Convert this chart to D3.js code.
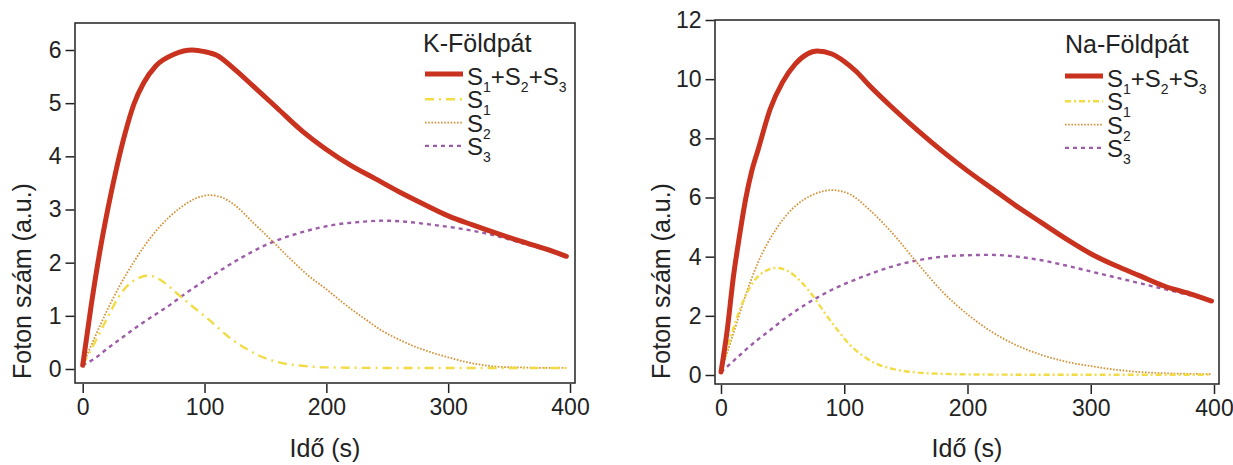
<!DOCTYPE html>
<html>
<head>
<meta charset="utf-8">
<script src="https://cdn.jsdelivr.net/npm/d3@7"></script>
<style>
  html, body { margin: 0; padding: 0; background: #fff; }
  svg { display: block; font-family: "Liberation Sans", Arial, sans-serif; }
</style>
</head>
<body>
<svg id="chart" width="1233" height="465"></svg>
<script>
// Time axis ticks (s)
const xTicks = [0, 100, 200, 300, 400];
const kYTicks = [0, 1, 2, 3, 4, 5, 6];
const naYTicks = [0, 2, 4, 6, 8, 10, 12];

// K-Földpát: [time (s), photon count (a.u.)]
const kTotal = [[0,0.07],[7,1.2],[14,2.2],[21,3.05],[28,3.8],[35,4.45],[42,4.98],[50,5.38],[60,5.7],[75,5.92],[90,6.0],[100,5.97],[110,5.9],[125,5.63],[140,5.32],[160,4.9],[180,4.48],[200,4.13],[220,3.83],[240,3.58],[260,3.33],[280,3.1],[300,2.88],[320,2.71],[340,2.55],[360,2.4],[380,2.26],[397,2.12]];
const kS1 = [[0,0.07],[10,0.5],[20,0.95],[28,1.3],[36,1.55],[45,1.7],[53,1.76],[62,1.7],[70,1.57],[77,1.43],[90,1.18],[105,0.9],[120,0.6],[135,0.37],[143,0.27],[160,0.13],[180,0.06],[200,0.03],[250,0.02],[300,0.02],[350,0.02],[397,0.02]];
const kS2 = [[0,0.07],[10,0.6],[20,1.1],[30,1.55],[43,2.05],[55,2.45],[65,2.72],[80,3.03],[92,3.2],[104,3.27],[115,3.22],[125,3.08],[140,2.75],[155,2.42],[170,2.08],[185,1.76],[200,1.5],[215,1.22],[233,0.92],[245,0.73],[260,0.55],[275,0.4],[288,0.3],[300,0.22],[315,0.13],[330,0.07],[343,0.04],[360,0.03],[380,0.02],[397,0.02]];
const kS3 = [[0,0.07],[10,0.2],[20,0.38],[30,0.55],[40,0.72],[50,0.88],[60,1.03],[70,1.18],[85,1.43],[100,1.66],[127,2.05],[150,2.33],[178,2.56],[206,2.71],[230,2.77],[247,2.79],[265,2.77],[288,2.71],[310,2.64],[329,2.56],[345,2.47],[360,2.37],[380,2.24],[397,2.1]];

// Na-Földpát: [time (s), photon count (a.u.)]
const naTotal = [[0,0.1],[5,1.5],[10,3.3],[15,4.7],[20,5.95],[25,6.9],[30,7.6],[40,9.0],[50,9.9],[60,10.5],[70,10.85],[78,10.95],[90,10.85],[100,10.6],[110,10.25],[120,9.8],[140,9.0],[160,8.25],[180,7.55],[200,6.9],[220,6.3],[240,5.7],[260,5.15],[280,4.6],[300,4.1],[320,3.7],[340,3.35],[360,3.0],[380,2.75],[398,2.5]];
const naS1 = [[0,0.1],[8,1.3],[16,2.3],[24,3.0],[32,3.4],[45,3.62],[55,3.5],[65,3.15],[75,2.65],[85,2.05],[95,1.5],[105,1.0],[115,0.65],[125,0.4],[140,0.2],[160,0.08],[180,0.04],[200,0.02],[250,0.01],[300,0.01],[350,0.01],[398,0.01]];
const naS2 = [[0,0.1],[10,1.4],[20,2.7],[30,3.8],[45,4.95],[60,5.7],[75,6.1],[90,6.25],[105,6.1],[120,5.6],[140,4.75],[160,3.75],[180,2.8],[200,2.05],[220,1.45],[240,1.0],[260,0.68],[280,0.45],[300,0.3],[320,0.18],[340,0.1],[360,0.06],[380,0.04],[398,0.03]];
const naS3 = [[0,0.1],[10,0.47],[20,0.85],[30,1.2],[40,1.52],[50,1.85],[60,2.15],[70,2.42],[80,2.66],[90,2.88],[100,3.07],[120,3.4],[140,3.68],[160,3.88],[180,4.0],[200,4.05],[220,4.06],[240,4.0],[260,3.88],[280,3.7],[300,3.5],[320,3.3],[340,3.1],[360,2.9],[380,2.7],[398,2.5]];

const seriesStyles = [
  { key: "total", color: "#c8321e", width: 5,   dash: null },
  { key: "s1",    color: "#f2dc46", width: 2.4, dash: "9,5,2,5" },
  { key: "s2",    color: "#d4923a", width: 1.8, dash: "1.6,1.6" },
  { key: "s3",    color: "#9c5ca8", width: 2.4, dash: "4,4" }
];

const panels = [
  {
    title: "K-Földpát",
    data: { total: kTotal, s1: kS1, s2: kS2, s3: kS3 },
    yTicks: kYTicks, yMax: 6,
    frame: { left: 75, right: 575, top: 23, bottom: 383 },
    xRange: [82.7, 570], yRange: [369, 50],
    yTitleX: 31,
    legend: { x: 425, titleX: 423, titleY: 52, rowY0: 85 },
    s1Dash: "9,5,2,5"
  },
  {
    title: "Na-Földpát",
    data: { total: naTotal, s1: naS1, s2: naS2, s3: naS3 },
    yTicks: naYTicks, yMax: 12,
    frame: { left: 715, right: 1219, top: 20, bottom: 384 },
    xRange: [721, 1214], yRange: [375, 20],
    yTitleX: 670,
    legend: { x: 1065, titleX: 1065, titleY: 53, rowY0: 87 },
    s1Dash: "6,3,2,3"
  }
];

const svg = d3.select("#chart");
const ink = "#222";
const fontFamily = "'Liberation Sans', Arial, sans-serif";

panels.forEach(p => {
  const g = svg.append("g");
  const x = d3.scaleLinear().domain([0, 400]).range(p.xRange);
  const y = d3.scaleLinear().domain([0, p.yMax]).range(p.yRange);
  const f = p.frame;

  // Curves, broad sum drawn last so it sits on top
  const line = d3.line().x(d => x(d[0])).y(d => y(d[1])).curve(d3.curveMonotoneX);
  ["s3", "s2", "s1", "total"].forEach(k => {
    const st = seriesStyles.find(s => s.key === k);
    g.append("path")
      .datum(p.data[k])
      .attr("d", line)
      .attr("fill", "none")
      .attr("stroke", st.color)
      .attr("stroke-width", st.width)
      .attr("stroke-linecap", k === "total" ? "round" : "butt")
      .attr("stroke-linejoin", "round")
      .attr("stroke-dasharray", k === "s1" ? p.s1Dash : st.dash);
  });

  // Frame
  g.append("rect")
    .attr("x", f.left).attr("y", f.top)
    .attr("width", f.right - f.left).attr("height", f.bottom - f.top)
    .attr("fill", "none").attr("stroke", ink).attr("stroke-width", 1.5);

  // X axis ticks and labels, hanging below the frame
  const xAxis = d3.axisBottom(x).tickValues(xTicks).tickFormat(d3.format("d"))
    .tickSize(9).tickSizeOuter(0).tickPadding(6);
  const xg = g.append("g").attr("transform", `translate(0,${f.bottom + 1})`).call(xAxis);
  xg.select(".domain").remove();
  xg.selectAll("line").attr("stroke", ink).attr("stroke-width", 1.5);
  xg.selectAll("text").attr("font-size", 23).attr("fill", ink).attr("font-family", fontFamily);

  // Y axis ticks and labels, left of the frame
  const yAxis = d3.axisLeft(y).tickValues(p.yTicks).tickFormat(d3.format("d"))
    .tickSize(9).tickSizeOuter(0).tickPadding(4);
  const yg = g.append("g").attr("transform", `translate(${f.left - 0.5},0)`).call(yAxis);
  yg.select(".domain").remove();
  yg.selectAll("line").attr("stroke", ink).attr("stroke-width", 1.5);
  yg.selectAll("text").attr("font-size", 23).attr("fill", ink).attr("font-family", fontFamily);

  // Axis titles
  g.append("text")
    .attr("x", (f.left + f.right) / 2).attr("y", 457)
    .attr("text-anchor", "middle").attr("font-size", 25).attr("fill", ink)
    .text("Idő (s)");
  g.append("text")
    .attr("transform", `translate(${p.yTitleX},281) rotate(-90)`)
    .attr("text-anchor", "middle").attr("font-size", 25).attr("fill", ink)
    .text("Foton szám (a.u.)");

  // Legend
  const L = p.legend;
  g.append("text").attr("x", L.titleX).attr("y", L.titleY)
    .attr("font-size", 25).attr("fill", ink).text(p.title);

  const labels = [
    [["S", "1"], ["+S", "2"], ["+S", "3"]],
    [["S", "1"]],
    [["S", "2"]],
    [["S", "3"]]
  ];
  const rowStep = 23.3;
  seriesStyles.forEach((st, i) => {
    const base = L.rowY0 + i * rowStep;
    const ly = base - (i === 0 ? 11 : 9);
    g.append("line")
      .attr("x1", L.x).attr("x2", L.x + 38)
      .attr("y1", ly).attr("y2", ly)
      .attr("stroke", st.color).attr("stroke-width", st.width)
      .attr("stroke-dasharray", st.key === "s1" ? p.s1Dash : st.dash);
    const t = g.append("text").attr("x", L.x + 42).attr("y", base)
      .attr("font-size", 24).attr("fill", ink);
    labels[i].forEach(([main, sub], j) => {
      t.append("tspan").attr("dy", j === 0 ? 0 : -7).text(main);
      t.append("tspan").attr("dy", 7).attr("font-size", 14).text(sub);
    });
  });
});
</script>
</body>
</html>
